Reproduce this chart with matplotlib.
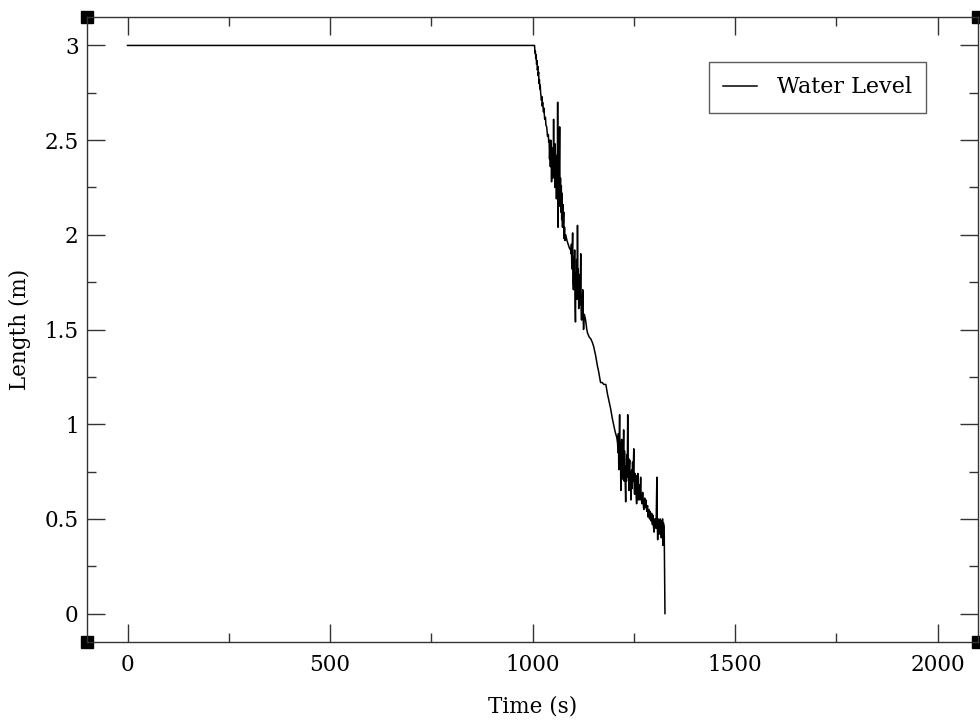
import matplotlib
matplotlib.use('Agg')
import matplotlib.pyplot as plt
from matplotlib.ticker import MultipleLocator

# water level (m) vs time (s)
time_s = [0, 500, 1000,
          1005, 1006, 1007, 1008, 1009, 1010, 1011, 1012, 1013, 1014, 1015, 1016, 1017, 1018, 1019,
          1020, 1022, 1023, 1024, 1025, 1027, 1028, 1030, 1032, 1033, 1035, 1037, 1039, 1040, 1041,
          1042, 1043, 1044, 1045, 1046, 1047, 1048, 1049, 1050, 1051, 1052, 1053, 1054, 1055, 1056,
          1057, 1058, 1059, 1060, 1061, 1062, 1063, 1064, 1065, 1066, 1067, 1068, 1069, 1070, 1071,
          1072, 1073, 1074, 1075, 1076, 1077, 1078, 1079, 1080,
          1082, 1085, 1088, 1091, 1094,
          1095, 1096, 1097, 1098, 1099, 1100, 1101, 1102, 1103, 1104, 1105, 1106, 1107, 1108, 1109,
          1110, 1111, 1112, 1113, 1114, 1115, 1116, 1117, 1118, 1119, 1120, 1121, 1122, 1123, 1124,
          1125, 1126, 1128, 1131, 1134,
          1136, 1140, 1144, 1148, 1151, 1156, 1160, 1163, 1168, 1172, 1176, 1181, 1185, 1188, 1193,
          1197, 1200, 1204, 1208,
          1210, 1211, 1212, 1213, 1214, 1215, 1216, 1217, 1218, 1219, 1220, 1221, 1222, 1223, 1224,
          1225, 1226, 1227, 1228, 1229, 1230, 1231, 1232, 1233, 1234, 1235, 1236, 1237, 1238, 1239,
          1240, 1241, 1242, 1243, 1244, 1245, 1246, 1247, 1248, 1250, 1251, 1252, 1253, 1254, 1255,
          1256, 1257, 1258, 1259, 1260, 1261, 1262, 1264, 1265, 1267, 1268, 1270, 1272, 1274, 1275,
          1277, 1279, 1280, 1282, 1284, 1285, 1287, 1289, 1290, 1292, 1294, 1296, 1297, 1299, 1300,
          1302, 1304, 1305, 1307, 1308, 1309, 1310, 1312, 1313, 1315, 1317, 1318, 1319, 1320, 1321,
          1322, 1323, 1324, 1325, 1326, 1327]
level_m = [3.0, 3.0, 3.0,
           3.0, 2.96, 2.97, 2.93, 2.95, 2.90, 2.92, 2.87, 2.89, 2.84, 2.86, 2.80, 2.82, 2.77, 2.79,
           2.75, 2.71, 2.73, 2.68, 2.70, 2.65, 2.67, 2.61, 2.62, 2.58, 2.57, 2.52, 2.53, 2.49, 2.50,
           2.40, 2.48, 2.36, 2.50, 2.42, 2.28, 2.46, 2.35, 2.45, 2.30, 2.61, 2.33, 2.44, 2.25, 2.48,
           2.30, 2.42, 2.19, 2.38, 2.22, 2.70, 2.04, 2.35, 2.18, 2.40, 2.57, 2.15, 2.30, 2.12, 2.26,
           2.08, 2.22, 2.04, 2.16, 2.06, 2.12, 1.98, 2.04, 1.97,
           2.00, 1.97, 1.95, 1.93, 1.92,
           1.90, 1.95, 1.82, 1.92, 2.01, 1.75, 1.71, 1.88, 1.78, 1.92, 1.65, 1.54, 1.80, 1.70, 1.87,
           1.66, 2.05, 1.72, 1.82, 1.61, 1.75, 1.79, 1.63, 1.72, 1.90, 1.62, 1.55, 1.68, 1.58, 1.71,
           1.56, 1.50, 1.58, 1.55, 1.50,
           1.48, 1.46, 1.45, 1.43, 1.41, 1.36, 1.31, 1.28, 1.22, 1.22, 1.21, 1.21, 1.16, 1.13, 1.08,
           1.03, 1.00, 0.96, 0.93,
           0.90, 0.85, 0.95, 0.76, 0.92, 1.05, 0.80, 0.90, 0.65, 0.85, 0.92, 0.75, 0.88, 0.71, 0.84,
           0.97, 0.70, 0.86, 0.81, 0.68, 0.59, 0.78, 0.70, 0.84, 0.72, 1.05, 0.74, 0.82, 0.65, 0.78,
           0.81, 0.68, 0.75, 0.60, 0.72, 0.76, 0.66, 0.80, 0.70, 0.87, 0.68, 0.63, 0.74, 0.66, 0.73,
           0.62, 0.58, 0.70, 0.64, 0.74, 0.60, 0.63, 0.68, 0.60, 0.72, 0.62, 0.58, 0.64, 0.56, 0.55,
           0.61, 0.56, 0.60, 0.54, 0.57, 0.51, 0.55, 0.50, 0.54, 0.49, 0.53, 0.47, 0.52, 0.45, 0.43,
           0.50, 0.50, 0.45, 0.72, 0.48, 0.39, 0.50, 0.49, 0.42, 0.50, 0.44, 0.40, 0.49, 0.44, 0.50,
           0.36, 0.48, 0.47, 0.46, 0.20, 0.0]

plt.rcParams['font.family'] = 'DejaVu Serif'
plt.rcParams['font.size'] = 15.5

fig = plt.figure(figsize=(9.8, 7.25), dpi=100)
ax = fig.add_axes([0.0888, 0.1145, 0.9092, 0.862])

ax.plot(time_s, level_m, color='black', lw=1.1, label='Water Level')

ax.set_xlim(-100, 2100)
ax.set_ylim(-0.15, 3.15)
ax.xaxis.set_major_locator(MultipleLocator(500))
ax.xaxis.set_minor_locator(MultipleLocator(250))
ax.yaxis.set_minor_locator(MultipleLocator(0.25))
ax.set_yticks([0, 0.5, 1, 1.5, 2, 2.5, 3])
ax.set_yticklabels(['0', '0.5', '1', '1.5', '2', '2.5', '3'])
ax.tick_params(which='both', direction='in', top=True, right=True, color='#333333', width=1)
ax.tick_params(which='major', length=13)
ax.tick_params(which='minor', length=6.5)
ax.tick_params(axis='x', pad=9)
ax.tick_params(axis='y', pad=6)
for s in ax.spines.values():
    s.set_color('#333333')
    s.set_linewidth(1)

ax.set_xlabel('Time (s)', labelpad=14)
ax.set_ylabel('Length (m)', labelpad=10)

# black squares on the corners
ax.plot([0, 0, 1, 1], [0, 1, 0, 1], 's', color='black', ms=9, transform=ax.transAxes, clip_on=False)

leg = ax.legend(loc='upper right', bbox_to_anchor=(0.9416, 0.928), borderaxespad=0, frameon=True,
                fancybox=False, edgecolor='#333333', handlelength=1.5, borderpad=0.65,
                handletextpad=0.9, fontsize=16)
leg.get_frame().set_linewidth(1)

plt.savefig('out.png', dpi=100)
